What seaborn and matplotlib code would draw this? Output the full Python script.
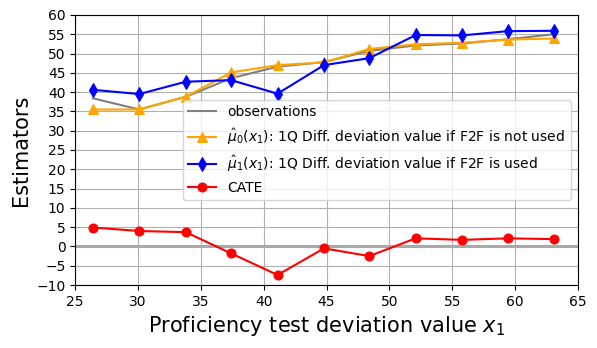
import matplotlib
matplotlib.use("Agg")
import matplotlib.pyplot as plt
import seaborn as sns

# values
x1 = [26.4, 30.1, 33.8, 37.4, 41.1, 44.8, 48.4, 52.1, 55.8, 59.4, 63.1]
observations = [38.4, 35.5, 38.8, 43.6, 46.6, 47.8, 50.7, 52.1, 52.6, 53.7, 55.0]
mu0 = [35.5, 35.5, 38.8, 45.1, 47.0, 47.7, 51.2, 52.4, 52.8, 53.6, 53.9]
mu1 = [40.6, 39.5, 42.7, 43.1, 39.6, 47.0, 48.8, 54.8, 54.7, 55.8, 55.9]
cate = [4.9, 4.0, 3.7, -1.8, -7.4, -0.5, -2.5, 2.1, 1.7, 2.1, 1.9]

fig, ax = plt.subplots(figsize=(5.97, 3.48), dpi=100)
fig.subplots_adjust(left=0.126, right=0.968, top=0.957, bottom=0.181)

ax.axhline(0, color="darkgray", lw=2.2, zorder=1)

sns.lineplot(x=x1, y=observations, color="gray", label="observations", ax=ax)
sns.lineplot(x=x1, y=mu0, color="orange", marker="^", markersize=6.5, markeredgecolor="orange",
             label=r"$\hat{\mu}_0(x_1)$: 1Q Diff. deviation value if F2F is not used", ax=ax)
sns.lineplot(x=x1, y=mu1, color="blue", marker="d", markersize=7.5, markeredgecolor="blue",
             label=r"$\hat{\mu}_1(x_1)$: 1Q Diff. deviation value if F2F is used", ax=ax)
sns.lineplot(x=x1, y=cate, color="red", marker="o", markersize=6.5, markeredgecolor="red",
             label="CATE", ax=ax)

ax.set_xlim(25, 65)
ax.set_ylim(-10, 60)
ax.set_xticks(range(25, 66, 5))
ax.set_yticks(range(-10, 61, 5))
ax.grid(True)
ax.set_axisbelow(True)
ax.set_xlabel("Proficiency test deviation value $x_1$", fontsize=15)
ax.set_ylabel("Estimators", fontsize=15)
ax.legend(loc="center right", fontsize=10)

fig.savefig("out.png", dpi=100)
